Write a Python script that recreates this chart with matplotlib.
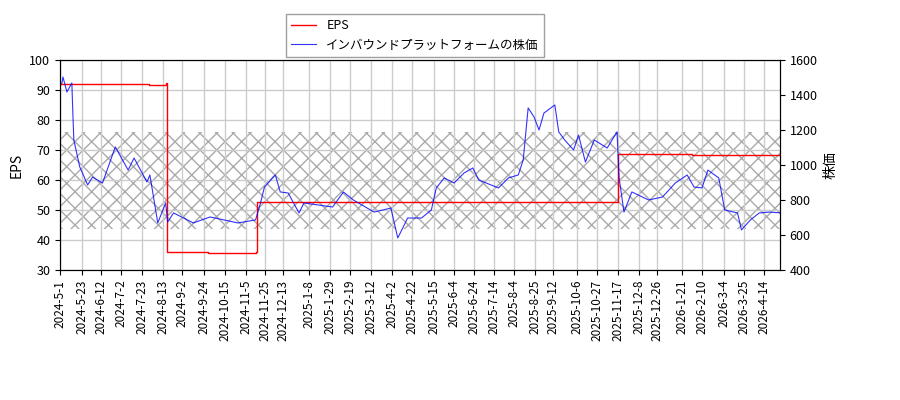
import numpy as np
import pandas as pd
import matplotlib
matplotlib.use('Agg')
import matplotlib.pyplot as plt

plt.rcParams['font.family'] = ['Noto Sans CJK JP', 'DejaVu Sans']

start = pd.Timestamp('2024-05-01')
end = pd.Timestamp('2026-04-30')

# stock price: days since 2024-5-1, price (yen)
price_days = [0, 2, 3, 7, 12, 13, 14, 20, 28, 33, 43, 56, 69, 75, 88, 91, 99, 107, 109, 115,
              135, 152, 180, 198, 203, 207, 218, 223, 231, 242, 247, 276, 287, 297, 318, 335,
              342, 352, 366, 376, 381, 389, 399, 409, 418, 424, 444, 454, 464, 469, 474, 480,
              485, 490, 501, 505, 511, 520, 525, 532, 541, 554, 564, 566, 571, 579, 596, 610,
              623, 635, 642, 650, 656, 667, 673, 686, 690, 699, 708, 718, 731]
price = [1460, 1469, 1503, 1417, 1469, 1297, 1143, 989, 886, 931, 897, 1103, 971, 1040, 903,
         943, 669, 783, 674, 726, 669, 703, 669, 686, 783, 874, 943, 846, 840, 726, 783, 760,
         846, 800, 731, 754, 583, 697, 697, 743, 869, 926, 897, 954, 983, 914, 869, 926,
         943, 1029, 1326, 1274, 1200, 1297, 1343, 1189, 1143, 1086, 1171, 1017, 1143, 1097,
         1189, 931, 731, 846, 800, 817, 897, 943, 874, 869, 971, 926, 743, 726, 629, 686, 726,
         731, 726]
price_dates = [start + pd.Timedelta(days=d) for d in price_days]

# EPS steps
eps_days = [0, 30, 60, 90, 107, 108, 150, 198, 199, 300, 450, 564, 565, 640, 700, 731]
eps = [92, 92, 92, 91.5, 92.3, 36, 35.8, 36, 52.7, 52.5, 52.6, 52.6, 68.5, 68.2, 68.4, 68.6]
eps_dates = [start + pd.Timedelta(days=d) for d in eps_days]

tick_labels = ['2024-5-1', '2024-5-23', '2024-6-12', '2024-7-2', '2024-7-23', '2024-8-13',
               '2024-9-2', '2024-9-24', '2024-10-15', '2024-11-5', '2024-11-25', '2024-12-13',
               '2025-1-8', '2025-1-29', '2025-2-19', '2025-3-12', '2025-4-2', '2025-4-22',
               '2025-5-15', '2025-6-4', '2025-6-24', '2025-7-14', '2025-8-4', '2025-8-25',
               '2025-9-12', '2025-10-6', '2025-10-27', '2025-11-17', '2025-12-8', '2025-12-26',
               '2026-1-21', '2026-2-10', '2026-3-4', '2026-3-25', '2026-4-14']
tick_dates = [pd.Timestamp(t) for t in tick_labels]

fig = plt.figure(figsize=(9, 4), dpi=100)
ax = fig.add_axes([60/900, 130/400, 720/900, 210/400])
ax2 = ax.twinx()

ax.fill_between([start, end], 43.5, 76, facecolor='none', edgecolor='#aaaaaa', hatch='xx', linewidth=0)
l1, = ax.plot(eps_dates, eps, color='red', drawstyle='steps-post', lw=1, label='EPS')
l2, = ax2.plot(price_dates, price, color='blue', lw=0.8, alpha=0.8)

ax.set_xlim(start, end)
ax.set_ylim(30, 100)
ax2.set_ylim(400, 1600)
ax.set_ylabel('EPS')
ax2.set_ylabel('株価')
ax.set_xticks(tick_dates)
ax.set_xticklabels(tick_labels, rotation=90, fontsize=8.5)
ax.tick_params(axis='y', labelsize=9)
ax2.tick_params(axis='y', labelsize=9)
ax.grid(True, color='#cccccc', lw=1)

fig.legend([l1, l2], ['EPS', 'インバウンドプラットフォームの株価'], loc='upper left',
           bbox_to_anchor=(280/900, 1 - 8/400), fontsize=9, fancybox=False, edgecolor='#888888')

fig.savefig('out.png')
